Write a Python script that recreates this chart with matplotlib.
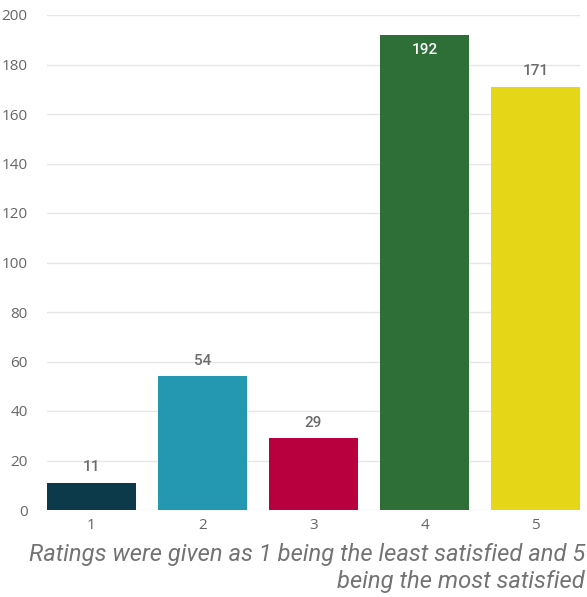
import matplotlib
matplotlib.use("Agg")
import matplotlib.pyplot as plt

ratings = ['1', '2', '3', '4', '5']
counts = [11, 54, 29, 192, 171]
bar_colors = ['#0d3a4b', '#2398b0', '#b8003f', '#2e6e37', '#e5d617']
y_ticks = [0, 20, 40, 60, 80, 100, 120, 140, 160, 180, 200]
caption = 'Ratings were given as 1 being the least satisfied and 5\nbeing the most satisfied'

fig = plt.figure(figsize=(5.87, 5.97), dpi=100)
ax = fig.add_axes([47 / 587, 87 / 597, 533 / 587, 495 / 597])

x = list(range(1, len(ratings) + 1))
ax.bar(x, counts, width=0.8, color=bar_colors, zorder=3)

ax.set_xlim(0.6, 5.4)
ax.set_ylim(0, 200)
ax.set_yticks(y_ticks)
ax.set_xticks(x)
ax.set_xticklabels(ratings)
ax.grid(axis='y', color='#e6e6e6', linewidth=1, zorder=0)
for s in ax.spines.values():
    s.set_visible(False)
ax.tick_params(length=0, labelcolor='#666666', labelsize=11)
ax.tick_params(axis='y', pad=14)
ax.tick_params(axis='x', pad=6)
for lab in ax.get_xticklabels() + ax.get_yticklabels():
    lab.set_family('Open Sans')

# value labels
for xi, v in zip(x, counts):
    if v > 185:
        ax.text(xi, v - 3.5, str(v), ha='center', va='top', color='white',
                fontsize=11, fontweight='medium', family='Roboto')
    else:
        ax.text(xi, v + 3.5, str(v), ha='center', va='bottom', color='#6b6b6b',
                fontsize=11, fontweight='medium', family='Roboto')

fig.text(585 / 587, 1 - 543 / 597, caption, ha='right', va='top',
         fontsize=17.1, style='italic', family='Roboto',
         color='#737373', linespacing=1.22)

plt.savefig('out.png', dpi=100)
